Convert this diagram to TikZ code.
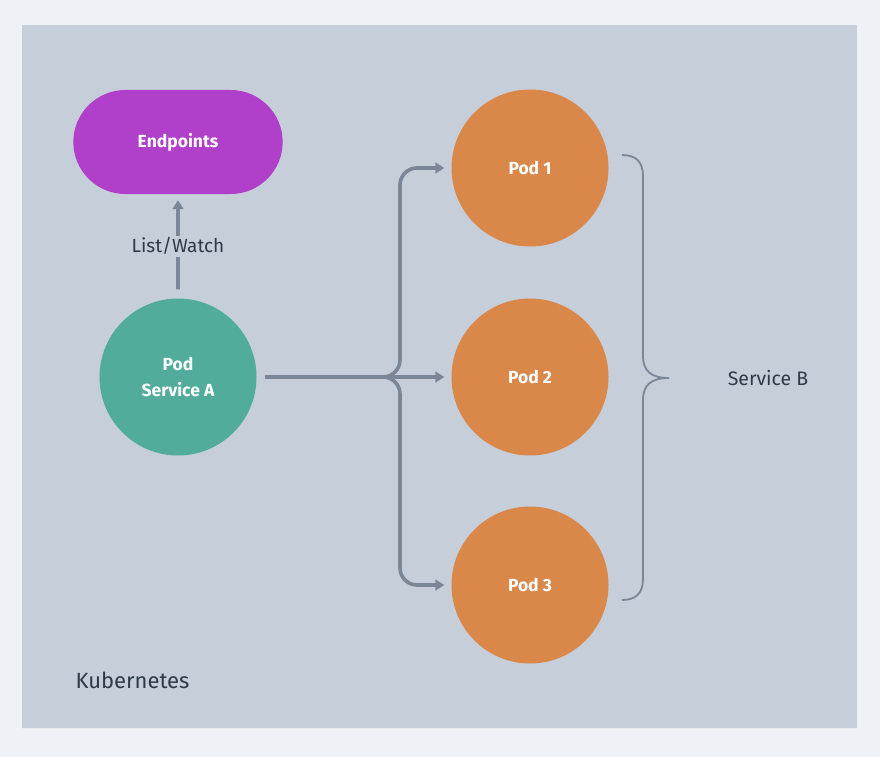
\documentclass[tikz,border=0pt]{standalone}
\usepackage{fontspec}
\setmainfont{Fira Sans}
\usetikzlibrary{arrows.meta,shapes.misc}
\definecolor{outerbg}{HTML}{EEF2F6}
\definecolor{panel}{HTML}{C6CED9}
\definecolor{conn}{HTML}{7B8796}
\definecolor{txt}{HTML}{2F3A47}
\definecolor{purp}{HTML}{B03FC9}
\definecolor{teal}{HTML}{52AC9C}
\definecolor{orng}{HTML}{D98849}
\tikzset{
  podnode/.style={circle, minimum size=157pt, inner sep=0pt, text=white, font=\fontsize{17.5}{22}\selectfont\bfseries, align=center},
  flow/.style={draw=conn, line width=3.6pt, -{Triangle[length=9pt,width=11pt]}},
  bracestyle/.style={draw=conn, line width=1.8pt},
  lbl/.style={text=txt, font=\fontsize{19.5}{23}\selectfont}
}
\begin{document}
\begin{tikzpicture}[x=1pt,y=-1pt]
\fill[outerbg] (0,0) rectangle (880,757);
\useasboundingbox (0,0) rectangle (880,757);
\fill[black!8] (22,25.5) rectangle (857,729);
\fill[panel] (22,25) rectangle (857,728);

\node[rounded rectangle, fill=purp, minimum width=216pt, minimum height=104pt, text=white, font=\fontsize{17.5}{22}\selectfont\bfseries] (ep) at (178,142) {Endpoints};

\node[podnode, fill=teal] (pa) at (178,377) {Pod\\[4pt]Service A};
\node[podnode, fill=orng] (p1) at (530,168) {Pod 1};
\node[podnode, fill=orng] (p2) at (530,377) {Pod 2};
\node[podnode, fill=orng] (p3) at (530,585) {Pod 3};

\draw[flow, shorten <=9pt, shorten >=6pt] (pa) -- node[lbl, font=\fontsize{19}{23}\selectfont, fill=panel, inner sep=2pt] {List/Watch} (ep);

\coordinate (br) at (380,377);
\draw[flow, shorten <=8pt, shorten >=7pt] (pa) -- (p2);
\draw[flow, rounded corners=17pt, shorten >=7pt] (br) -- (400,377) -- (400,168) -- (p1.west);
\draw[flow, rounded corners=17pt, shorten >=7pt] (br) -- (400,377) -- (400,585) -- (p3.west);

\draw[bracestyle] (622,155) .. controls (636,155) and (643,162) .. (643,176) -- (643,356) .. controls (643,371) and (651,378) .. (669,378);
\draw[bracestyle] (669,378) .. controls (651,378) and (643,385) .. (643,400) -- (643,579) .. controls (643,593) and (636,600) .. (622,600);

\node[lbl] (sb) at (768,378) {Service B};
\node[lbl, font=\fontsize{22}{26}\selectfont, anchor=west] (k8s) at (72,680) {Kubernetes};
\end{tikzpicture}
\end{document}
